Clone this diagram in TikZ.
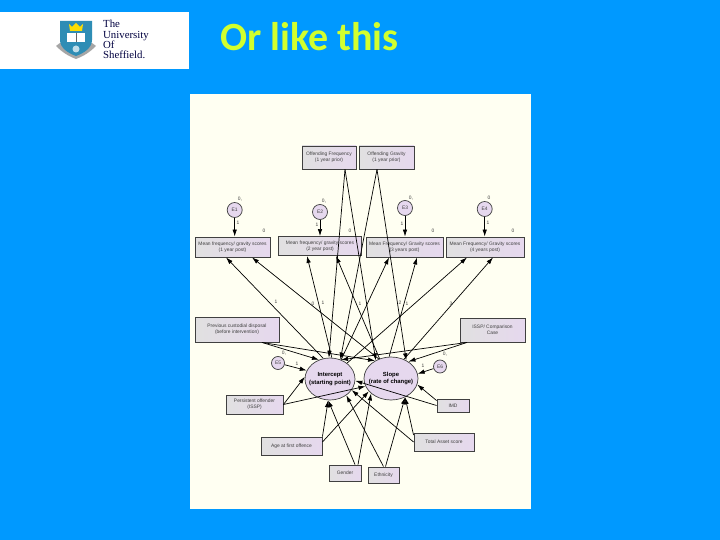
\documentclass[tikz,border=0pt]{standalone}
\usepackage{fontspec}
\setmainfont{Liberation Sans}
\newfontfamily\titlefont{Carlito}
\newfontfamily\logofont{Liberation Serif}
\usetikzlibrary{shapes.geometric,arrows.meta}
\definecolor{sky}{HTML}{0099FF}
\definecolor{paper}{HTML}{FFFFF2}
\definecolor{lilac}{HTML}{E6D8EE}
\definecolor{crest}{HTML}{2E8DB5}
\definecolor{lime}{HTML}{D2FF2E}
\tikzset{bx/.style={draw=black!75,line width=.9pt,left color=black!12,right color=lilac,align=center,font=\fontsize{4.9}{5.8}\selectfont,text=black!75,inner sep=0pt},
 lat/.style={draw=black!75,line width=.7pt,ellipse,fill=lilac,align=center,inner sep=-6pt,font=\fontsize{5.9}{7.4}\selectfont\bfseries},
 er/.style={draw=black!75,line width=.7pt,circle,fill=lilac,inner sep=0pt,font=\fontsize{4.9}{5}\selectfont,text=black!75},
 ar/.style={line width=.7pt,-{Latex[length=7pt,width=4.5pt]}},lb/.style={font=\fontsize{4.9}{5}\selectfont,text=black!75,inner sep=0pt}}
\begin{document}
\begin{tikzpicture}[x=1pt,y=-1pt]
\useasboundingbox (0,0) rectangle (720,540);
\fill[sky] (0,0) rectangle (720,540);\fill[white] (0,12) rectangle (189,69);\fill[paper] (190,94) rectangle (531,509);
\fill[black!35] (56,46) .. controls (62,52) and (68,56) .. (76,59) .. controls (84,56) and (90,52) .. (96,46) -- (92,43) -- (60,43) -- cycle;
\fill[crest] (60,21) -- (92,21) -- (92,40) .. controls (92,48) and (84,53) .. (76,56) .. controls (68,53) and (60,48) .. (60,40) -- cycle;
\fill[white] (67,33) rectangle (85,42);\fill[black!60] (75.5,33) rectangle (76.5,42);\fill[yellow!80!orange] (69,24) -- (72,27) -- (76,23) -- (80,27) -- (83,24) -- (82,31) -- (70,31) -- cycle;
\fill[white!70!crest] (76,49) circle (3.5);
\node[anchor=base west,align=left,inner sep=0pt,text=black!75!blue,font=\fontsize{10.8}{10.4}\logofont] (logo) at (103,59) {The\\University\\Of\\Sheffield.};
\node[anchor=base west,inner sep=0pt,text=lime,font=\fontsize{40}{40}\titlefont\bfseries] (title) at (220,51) {Or like this};
\node[bx,minimum width=54pt,minimum height=23pt](freq) at (329,157.5){Offending Frequency\\(1 year prior)};\node[bx,minimum width=55pt,minimum height=23pt](grav) at (386.5,157.5){Offending Gravity\\(1 year prior)};
\node[er,minimum size=15pt](e1) at (234.7,210){E1};\node[er,minimum size=15pt](e2) at (320,212){E2};\node[er,minimum size=15pt](e3) at (405,208){E3};\node[er,minimum size=15pt](e4) at (484.7,209){E4};
\node[bx,minimum width=75pt,minimum height=20pt](m1) at (232.5,247){Mean frequency/ gravity scores\\(1 year post)};\node[bx,minimum width=83pt,minimum height=19pt](m2) at (320,246){Mean frequency/ gravity scores\\(2 year post)};
\node[bx,minimum width=77pt,minimum height=20pt](m3) at (404.5,247){Mean Frequency/ Gravity scores\\(3 years post)};\node[bx,minimum width=78pt,minimum height=20pt](m4) at (485,247){Mean Frequency/ Gravity scores\\(4 years post)};
\node[bx,minimum width=84pt,minimum height=25pt](prev) at (237,329.5){Previous custodial disposal\\(before intervention)};\node[bx,minimum width=65pt,minimum height=24pt](issp) at (492.5,330){ISSP/ Comparison\\Case};
\node[lat,minimum width=50pt,minimum height=42pt](int) at (330,379){Intercept\\(starting point)};\node[lat,minimum width=54pt,minimum height=43pt](slope) at (391,378.5){Slope\\(rate of change)};
\node[er,minimum size=13pt](e5) at (278,363){E5};\node[er,minimum size=13pt](e6) at (440,366.5){E6};
\node[bx,minimum width=57pt,minimum height=19pt](pers) at (254.5,404.5){Persistent offender\\(ISSP)};\node[bx,minimum width=32pt,minimum height=13pt](imd) at (453,405.5){IMD};
\node[bx,minimum width=61pt,minimum height=18pt](age) at (291.5,446){Age at first offence};\node[bx,minimum width=60pt,minimum height=18pt](asset) at (444,442){Total Asset score};
\node[bx,minimum width=32pt,minimum height=16pt](gen) at (345,473){Gender};\node[bx,minimum width=31pt,minimum height=16pt](eth) at (383.5,475){Ethnicity};
\foreach \a/\b in {e1/m1,e2/m2,e3/m3,e4/m4}{\draw[ar](\a.south)--(\a.south|-\b.north);}
\draw[ar](int.108)--([xshift=-6.5pt]m1.south);\draw[ar](slope.122)--([xshift=19.5pt]m1.south);\draw[ar](int.85)--([xshift=-13pt]m2.south);\draw[ar](slope.120)--([xshift=16pt]m2.south);
\draw[ar](int.60)--([xshift=-15.5pt]m3.south);\draw[ar](slope.95)--([xshift=12.5pt]m3.south);\draw[ar](int.43)--([xshift=-18pt]m4.south);\draw[ar](slope.56)--([xshift=8pt]m4.south);
\draw[ar]([xshift=16pt]freq.south)--(int.93);\draw[ar]([xshift=16pt]freq.south)--(slope.130);\draw[ar]([xshift=-9.5pt]grav.south)--(int.62);\draw[ar]([xshift=-9.5pt]grav.south)--(slope.50);
\draw[ar]([xshift=25pt]prev.south)--(int.120);\draw[ar]([xshift=25pt]prev.south)--(slope.132);\draw[ar]([xshift=-25.5pt]issp.south)--(int.60);\draw[ar]([xshift=-25.5pt]issp.south)--(slope.44);
\draw[ar](e5)--(int.160);\draw[ar](e6)--(slope.10);\draw[ar](pers.east)--(int.175);\draw[ar](pers.east)--(slope.197);
\draw[ar](age.north east)--(int.265);\draw[ar]([yshift=4pt]age.east)--(slope.210);\draw[ar]([xshift=10pt]gen.north)--(int.265);\draw[ar]([xshift=13pt]gen.north)--(slope.217);
\draw[ar](eth.north)--(int.-45);\draw[ar]([xshift=2pt]eth.north)--(slope.-53);\draw[ar](asset.west)--(int.-27);\draw[ar]([yshift=7pt]asset.west)--(slope.-53);
\draw[ar](imd.west)--(int.-4);\draw[ar]([yshift=5pt]imd.west)--(slope.-13);
\node[lb](c1) at (240,199){0,};\node[lb](c2) at (324,201){0,};\node[lb](c3) at (411,198){0,};\node[lb](c4) at (489,198){0};
\node[lb](w1) at (238,223){1};\node[lb](w2) at (317,225){1};\node[lb](w3) at (402,224){1};\node[lb](w4) at (488,223){1};
\node[lb](t1) at (264,231){0};\node[lb](t2) at (350,231){0};\node[lb](t3) at (433,231){0};\node[lb](t4) at (513,231){0};
\node[lb](s1) at (276,302){1};\node[lb](s2) at (313,304){0};\node[lb](s3) at (323,303){1};\node[lb](s4) at (360,304){1};\node[lb](s5) at (400,303){2};\node[lb](s6) at (407,304){1};\node[lb](s7) at (451,304){3};
\node[lb](c5) at (284,353){0,};\node[lb](c6) at (445,354){0,};\node[lb](w5) at (297,364){1};\node[lb](w6) at (423,366){1};
\end{tikzpicture}
\end{document}
